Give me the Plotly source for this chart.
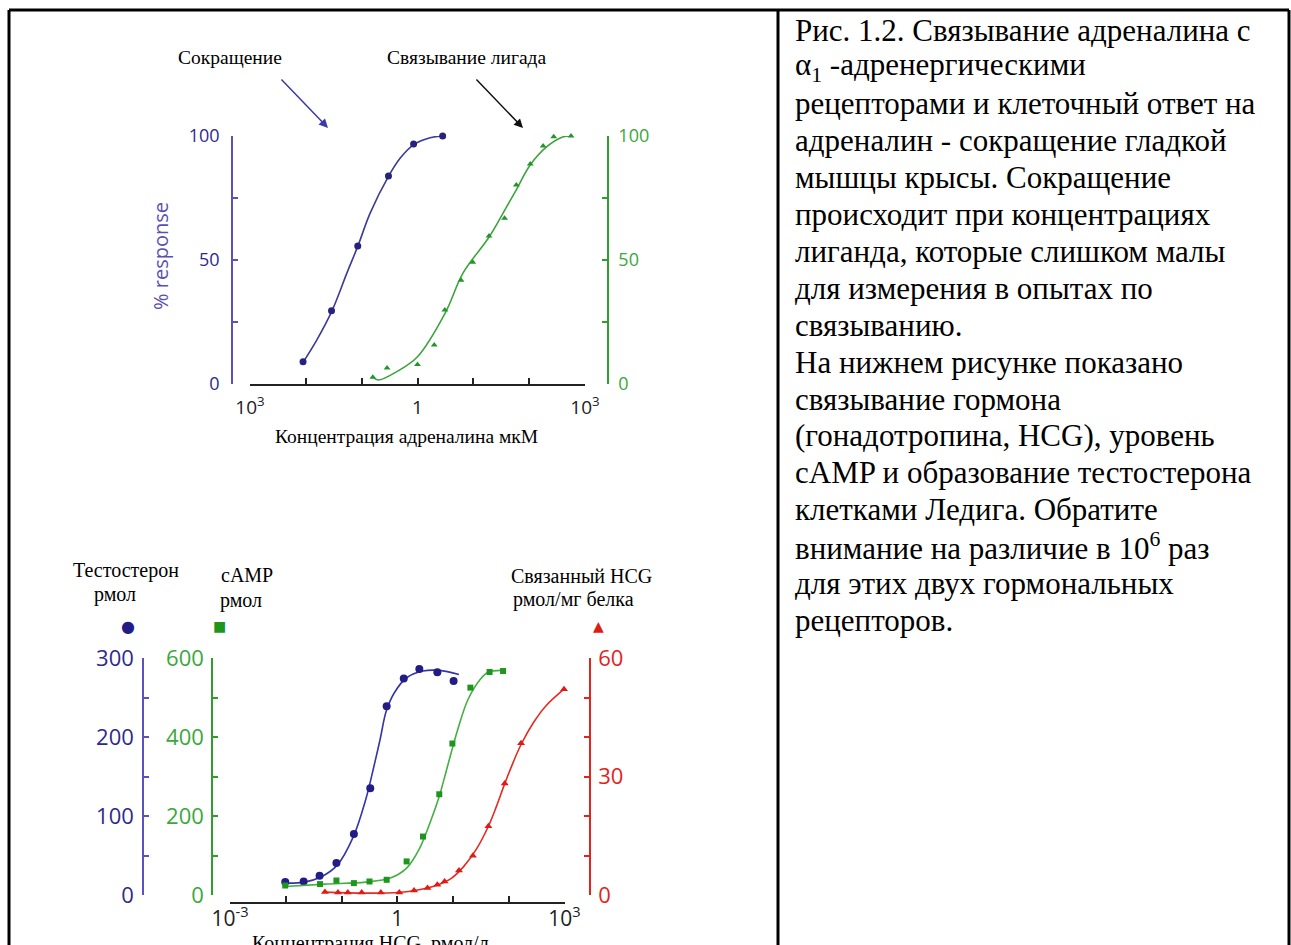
import numpy as np
import plotly.graph_objects as go

W, H = 1291, 945


def X(px):
    return px / W


def Y(py):
    return 1 - py / H


# ---------------- DATA ----------------
# Top chart: adrenaline concentration, log10(мкМ)
contr_logc = [-2.05, -1.54, -1.07, -0.52, -0.07, 0.45]
contr_resp = [9, 29.5, 55.6, 83.9, 96.8, 100]
contr_fit_logc = [-2.05, -1.805, -1.53, -1.267, -1.065, -0.85, -0.515, -0.312, -0.061, 0.226, 0.465]
contr_fit_resp = [8.7, 17.7, 29.6, 44.6, 55.8, 68.8, 83.9, 91.0, 96.6, 99.3, 100]

bind_logc = [-0.80, -0.545, 0.0, 0.30, 0.49, 0.78, 0.99, 1.28, 1.56, 1.77, 2.02, 2.25, 2.44, 2.75]
bind_resp = [2.7, 6.5, 7.9, 15.7, 29.8, 41.8, 49.1, 59.7, 66.8, 80.2, 88.7, 96.0, 99.7, 100]
bind_fit_logc = [-0.796, -0.706, -0.371, 0.0, 0.495, 0.817, 1.283, 1.565, 1.767, 2.018, 2.317, 2.615, 2.789]
bind_fit_resp = [2.8, 1.6, 5.0, 11.0, 28.6, 44.8, 59.3, 70.2, 78.2, 88.3, 95.7, 99.7, 100]

top_xtick_exp = [-3, -2, -1, 0, 1, 2, 3]
top_xtick_text = ["10<sup>3</sup>", "", "", "1", "", "", "10<sup>3</sup>"]
top_ytick_vals = [0, 25, 50, 75, 100]
top_ytick_text = ["0", "", "50", "", "100"]

# Bottom chart: HCG concentration, log10(рмол/л)
test_logc = [-2.009, -1.679, -1.393, -1.091, -0.778, -0.484, -0.190, 0.117, 0.396, 0.719, 1.011]
test_val = [16.3, 17.1, 24.3, 40.4, 77.2, 135, 239, 274, 286, 282, 271]
test_fit_logc = [-2.009, -1.663, -1.371, -1.077, -0.785, -0.565, -0.418, -0.308, -0.197, -0.052, 0.168, 0.462, 0.754, 1.107]
test_fit_val = [15.1, 16.3, 22.7, 37.8, 74.2, 120.8, 163, 196.8, 232.8, 256, 275, 283.5, 284.3, 279.2]

camp_logc = [-2.009, -1.385, -1.091, -0.778, -0.498, -0.190, 0.168, 0.462, 0.754, 0.989, 1.312, 1.656, 1.898]
camp_val = [24, 27.6, 36.7, 30.1, 34.2, 38.5, 85, 148, 255, 383.5, 525, 564.6, 567]
camp_fit_logc = [-2.009, -1.297, -0.565, -0.125, 0.168, 0.389, 0.608, 0.754, 0.902, 1.085, 1.269, 1.487, 1.635, 1.898]
camp_fit_val = [21.5, 27.6, 32.7, 42.8, 68.1, 114.7, 190.6, 249.9, 326, 419, 495, 545.8, 564.6, 568.6]

hcg_logc = [-1.297, -1.063, -0.887, -0.638, -0.294, 0.036, 0.301, 0.543, 0.719, 0.849, 1.107, 1.357, 1.635, 1.928, 2.221, 2.991]
hcg_val = [0.73, 0.63, 0.63, 0.63, 0.63, 0.63, 1.14, 1.75, 2.58, 3.42, 6.23, 9.95, 17.4, 28.2, 38.4, 52.1]
hcg_fit_logc = [-1.297, -0.565, 0.021, 0.389, 0.681, 0.975, 1.194, 1.414, 1.635, 1.781, 1.928, 2.074, 2.221, 2.441, 2.661, 2.991]
hcg_fit_val = [0.73, 0.48, 0.63, 1.32, 2.33, 4.28, 7.24, 11.47, 17.4, 22.5, 28.2, 33.4, 38.1, 43.6, 47.8, 52.1]

bot_xtick_exp = [-3, -2, -1, 0, 1, 2, 3]
bot_xtick_text = ["10<sup>-3</sup>", "", "", "1", "", "", "10<sup>3</sup>"]
test_tick_vals = [0, 50, 100, 150, 200, 250, 300]
test_tick_text = ["0", "", "100", "", "200", "", "300"]
camp_tick_vals = [0, 100, 200, 300, 400, 500, 600]
camp_tick_text = ["0", "", "200", "", "400", "", "600"]
hcg_tick_vals = [0, 10, 20, 30, 40, 50, 60]
hcg_tick_text = ["0", "", "", "30", "", "", "60"]

caption_lines = [
    "Рис. 1.2. Связывание адреналина с",
    "α<sub>1</sub> -адренергическими",
    "рецепторами и клеточный ответ на",
    "адреналин - сокращение гладкой",
    "мышцы крысы. Сокращение",
    "происходит при концентрациях",
    "лиганда, которые слишком малы",
    "для измерения в опытах по",
    "связыванию.",
    "На нижнем рисунке показано",
    "связывание гормона",
    "(гонадотропина, HCG), уровень",
    "cAMP и образование тестостерона",
    "клетками Ледига. Обратите",
    "внимание на различие в 10<sup>6</sup> раз",
    "для этих двух гормональных",
    "рецепторов.",
]


def p10(v):
    return np.power(10.0, np.asarray(v, dtype=float))


# ---------------- colours / fonts ----------------
NAVY = "#2e2a8c"
BLUE_AX = "#5a52bd"
GREEN = "#2f9e2f"
GREEN_LBL = "#3aa83a"
RED = "#e3231e"
SERIF = "Liberation Serif"
SANS = "Open Sans"

fig = go.Figure()

# top chart traces
fig.add_trace(go.Scatter(x=p10(contr_fit_logc), y=contr_fit_resp, mode="lines", line=dict(color="#3b3a98", width=1.6, shape="spline"), xaxis="x", yaxis="y", hoverinfo="skip"))
fig.add_trace(go.Scatter(x=p10(contr_logc), y=contr_resp, mode="markers", marker=dict(color="#26237e", size=7, symbol="circle"), xaxis="x", yaxis="y", cliponaxis=False))
fig.add_trace(go.Scatter(x=p10(bind_fit_logc), y=bind_fit_resp, mode="lines", line=dict(color="#3da43d", width=1.6, shape="spline"), xaxis="x", yaxis="y2", hoverinfo="skip"))
fig.add_trace(go.Scatter(x=p10(bind_logc), y=bind_resp, mode="markers", marker=dict(color="#22962a", size=6, symbol="triangle-up"), xaxis="x", yaxis="y2", cliponaxis=False))

# bottom chart traces
fig.add_trace(go.Scatter(x=p10(test_fit_logc), y=test_fit_val, mode="lines", line=dict(color="#3535a8", width=1.6, shape="spline"), xaxis="x2", yaxis="y3", hoverinfo="skip"))
fig.add_trace(go.Scatter(x=p10(test_logc), y=test_val, mode="markers", marker=dict(color="#221c84", size=8, symbol="circle"), xaxis="x2", yaxis="y3", cliponaxis=False))
fig.add_trace(go.Scatter(x=p10(camp_fit_logc), y=camp_fit_val, mode="lines", line=dict(color="#43b043", width=1.6, shape="spline"), xaxis="x2", yaxis="y4", hoverinfo="skip"))
fig.add_trace(go.Scatter(x=p10(camp_logc), y=camp_val, mode="markers", marker=dict(color="#1e961e", size=6, symbol="square"), xaxis="x2", yaxis="y4", cliponaxis=False))
fig.add_trace(go.Scatter(x=p10(hcg_fit_logc), y=hcg_fit_val, mode="lines", line=dict(color="#e52a22", width=1.6, shape="spline"), xaxis="x2", yaxis="y5", hoverinfo="skip"))
fig.add_trace(go.Scatter(x=p10(hcg_logc), y=hcg_val, mode="markers", marker=dict(color="#e01a14", size=7, symbol="triangle-up"), xaxis="x2", yaxis="y5", cliponaxis=False))


def yax(rng, pos, color, lblcolor, vals, text, side="left", size=18, standoff=6, **kw):
    d = dict(range=rng, anchor="free", position=pos, side=side, showgrid=False, zeroline=False,
             showline=True, linecolor=color, linewidth=1.5, ticks="inside", ticklen=5,
             tickwidth=1.5, tickcolor=color, tickvals=vals, ticktext=text, automargin=False,
             tickfont=dict(family=SANS, size=size, color=lblcolor), ticklabelstandoff=standoff)
    d.update(kw)
    return d


def xax(dom, pos, text, exps, size, standoff):
    return dict(type="log", range=[-3, 3], domain=dom, anchor="free", position=pos,
                showgrid=False, zeroline=False, showline=True, linecolor="#222", linewidth=2,
                ticks="inside", ticklen=6, tickwidth=2, tickcolor="#222", automargin=False,
                tickvals=[10.0 ** k for k in exps], ticktext=text,
                tickfont=dict(family=SANS, size=size, color="#222"), ticklabelstandoff=standoff)


fig.update_layout(
    width=W, height=H, autosize=False, margin=dict(l=0, r=0, t=0, b=0, pad=0),
    paper_bgcolor="white", plot_bgcolor="rgba(0,0,0,0)", showlegend=False,
    xaxis=xax([X(250), X(585)], Y(385), top_xtick_text, top_xtick_exp, 19, 5),
    xaxis2=xax([X(230), X(564.5)], Y(903), bot_xtick_text, bot_xtick_exp, 21, -3),
    yaxis=yax([0, 100], X(232), BLUE_AX, NAVY, top_ytick_vals, top_ytick_text, domain=[Y(384), Y(136)], standoff=8),
    yaxis2=yax([0, 100], X(608), GREEN, GREEN_LBL, top_ytick_vals, top_ytick_text, side="right", overlaying="y", standoff=6),
    yaxis3=yax([0, 300], X(143), BLUE_AX, NAVY, test_tick_vals, test_tick_text, domain=[Y(895), Y(658)], size=22, standoff=4),
    yaxis4=yax([0, 600], X(212), GREEN, GREEN_LBL, camp_tick_vals, camp_tick_text, overlaying="y3", size=22, standoff=3),
    yaxis5=yax([0, 60], X(590), RED, RED, hcg_tick_vals, hcg_tick_text, side="right", overlaying="y3", size=22, standoff=3),
)

ann = []


def txt(px, py, s, size=16, color="black", family=SERIF, xanchor="center", yanchor="middle", **kw):
    d = dict(x=X(px), y=Y(py), xref="paper", yref="paper", text=s, showarrow=False,
             font=dict(family=family, size=size, color=color), xanchor=xanchor, yanchor=yanchor)
    d.update(kw)
    ann.append(d)


# top chart labels
txt(230, 57, "Сокращение", size=19.5)
txt(466, 57, "Связывание лигада", size=19.5)
txt(406, 436, "Концентрация адреналина мкМ", size=19.5)
txt(160, 256, "% response", size=20, color="#5a50b0", family=SANS, textangle=-90)
ann.append(dict(x=X(328), y=Y(128), xref="paper", yref="paper", ax=-48, ay=-50, showarrow=True,
                arrowhead=2, arrowsize=1.2, arrowwidth=1.5, arrowcolor="#3a3aa8", text=""))
ann.append(dict(x=X(523), y=Y(128), xref="paper", yref="paper", ax=-48, ay=-50, showarrow=True,
                arrowhead=2, arrowsize=1.2, arrowwidth=1.5, arrowcolor="#111", text=""))

# bottom chart labels
txt(126, 570, "Тестостерон", size=20)
txt(115, 594, "рмол", size=20)
txt(247, 575, "cAMP", size=20)
txt(241, 600, "рмол", size=20)
txt(581, 576, "Связанный HCG", size=20)
txt(573, 599, "рмол/мг белка", size=20)
txt(128, 626, "●", size=16, color="#221c84", family="DejaVu Sans")
txt(219, 626, "■", size=14, color="#1e961e", family="DejaVu Sans")
txt(598, 626, "▲", size=14, color="#e01a14", family="DejaVu Sans")
txt(370, 943, "Концентрация HCG, рмол/л", size=20)

# caption on the right
for i, line in enumerate(caption_lines):
    txt(793, 30 + i * 36.9, line, size=31, xanchor="left")

fig.update_layout(annotations=ann)

# table borders
shapes = []
for (x0, y0, x1, y1) in [(9, 10, 1289, 10), (9, 10, 9, 960), (1289, 10, 1289, 960), (778, 10, 778, 960)]:
    shapes.append(dict(type="line", xref="paper", yref="paper", x0=X(x0), y0=Y(y0), x1=X(x1), y1=Y(y1),
                       line=dict(color="black", width=3)))
fig.update_layout(shapes=shapes)

fig.write_html("out.html", config={"displayModeBar": False},
               post_script="document.body.style.margin='0';document.body.style.overflow='hidden';")
